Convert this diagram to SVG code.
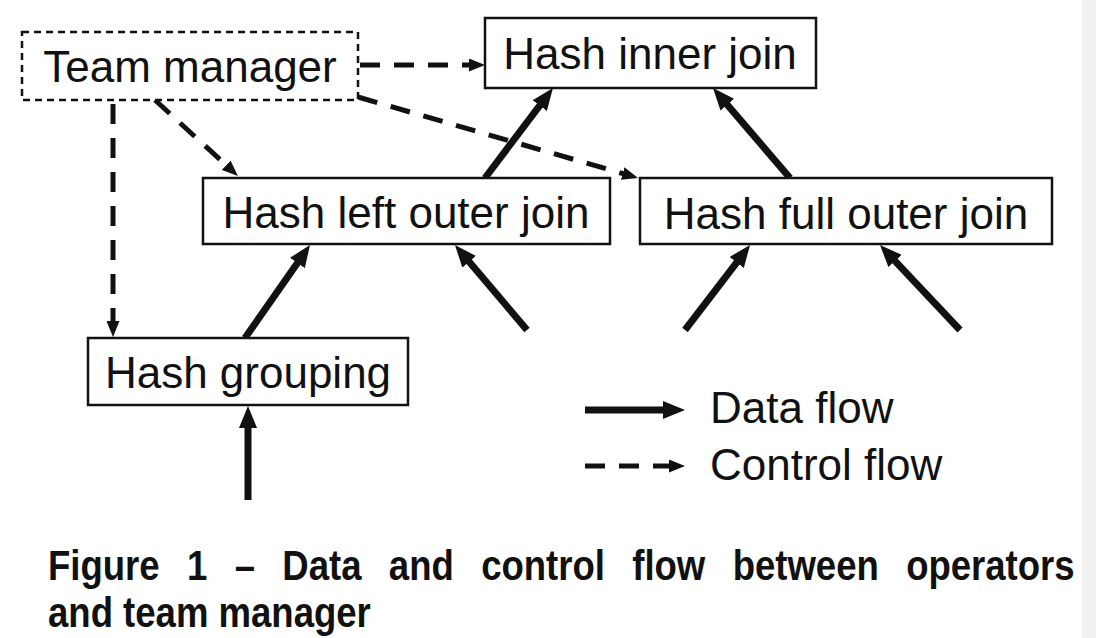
<svg xmlns="http://www.w3.org/2000/svg" width="1096" height="638" viewBox="0 0 1096 638">
<style>
.box{fill:#fff;stroke:#111;stroke-width:2.5}
.dbox{fill:#fff;stroke:#111;stroke-width:2.5;stroke-dasharray:7 5}
.lbl{font-family:"Liberation Sans",Arial,sans-serif;font-size:44px;fill:#111;text-anchor:middle}
.leg{font-family:"Liberation Sans",Arial,sans-serif;font-size:44px;fill:#111}
.cap{font-family:"Liberation Sans",Arial,sans-serif;font-size:42px;font-weight:bold;fill:#111}
.data{stroke:#111;stroke-width:7;fill:none;marker-end:url(#ah)}
.ctrl{stroke:#111;stroke-width:5;fill:none;stroke-dasharray:20 14;marker-end:url(#ch)}
</style>
<defs>
<marker id="ah" viewBox="0 0 22 18" refX="4" refY="9" markerWidth="22" markerHeight="18" markerUnits="userSpaceOnUse" orient="auto"><path d="M0,0 L22,9 L0,18 Z" fill="#111"/></marker>
<marker id="ch" viewBox="0 0 16 13" refX="4" refY="6.5" markerWidth="16" markerHeight="13" markerUnits="userSpaceOnUse" orient="auto"><path d="M0,0 L16,6.5 L0,13 Z" fill="#111"/></marker>
</defs>
<rect x="0" y="0" width="1096" height="638" fill="#fff"/>
<rect x="1082" y="0" width="14" height="638" fill="#f1f1f1"/>
<g id="connectors">
<line class="data" x1="485" y1="178" x2="542.1" y2="102.4"/>
<line class="data" x1="790" y1="178" x2="724.7" y2="101.7"/>
<line class="data" x1="245" y1="338" x2="299.7" y2="259.7"/>
<line class="data" x1="527" y1="330" x2="466.6" y2="258.7"/>
<line class="data" x1="685" y1="330" x2="739.1" y2="259.3"/>
<line class="data" x1="960" y1="330" x2="892.3" y2="258.1"/>
<line class="data" x1="248" y1="500" x2="248" y2="424"/>
<line class="ctrl" x1="360" y1="65" x2="473" y2="65"/>
<line class="ctrl" x1="155" y1="100" x2="229.1" y2="167.9"/>
<line class="ctrl" x1="358" y1="97" x2="626.5" y2="174.7"/>
<line class="ctrl" x1="113" y1="104" x2="113" y2="325"/>
</g>
<g id="team-manager"><rect class="dbox" x="22" y="32" width="336" height="68"/><text class="lbl" x="190" y="82">Team manager</text></g>
<g id="hash-inner-join"><rect class="box" x="485" y="18" width="331" height="70"/><text class="lbl" x="650" y="69">Hash inner join</text></g>
<g id="hash-left-outer-join"><rect class="box" x="203" y="178" width="407" height="66"/><text class="lbl" x="406" y="228">Hash left outer join</text></g>
<g id="hash-full-outer-join"><rect class="box" x="640" y="178" width="412" height="66"/><text class="lbl" x="846" y="229">Hash full outer join</text></g>
<g id="hash-grouping"><rect class="box" x="88" y="338" width="320" height="67"/><text class="lbl" x="248" y="388">Hash grouping</text></g>
<g id="legend">
<line class="data" x1="585" y1="410" x2="667" y2="410"/>
<text class="leg" x="710" y="423">Data flow</text>
<line class="ctrl" x1="585" y1="466" x2="673" y2="466"/>
<text class="leg" x="710" y="480">Control flow</text>
</g>
<g id="caption" transform="translate(48,0) scale(0.87,1)">
<text class="cap" x="0" y="580" word-spacing="19.8" textLength="1180" lengthAdjust="spacing">Figure 1 – Data and control flow between operators</text>
<text class="cap" x="0" y="627">and team manager</text>
</g>
</svg>
